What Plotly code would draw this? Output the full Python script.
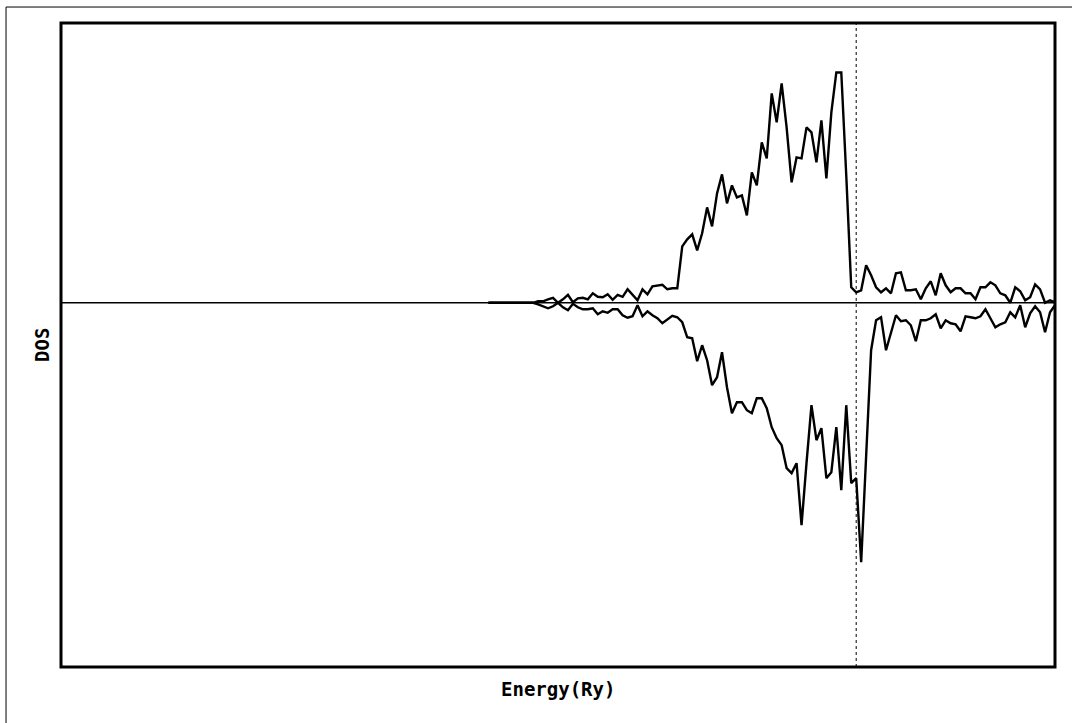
import numpy as np
import plotly.graph_objects as go

# Energy grid (Ry), Fermi level at 0
energy = np.round(np.arange(-0.74, 0.405, 0.01), 2)

# Majority-spin DOS (plotted upward)
dos_up = [
    0, 0, 0, 0, 0, 0, 0, 0, 0, 0,
    0.15, 0.15, 0.35, 0.5, 0.0, 0.35, 0.8, 0.05, 0.45, 0.5,
    0.35, 0.95, 0.6, 0.55, 0.85, 0.3, 0.8, 0.6, 1.35, 0.75,
    0.25, 1.35, 0.85, 1.65, 1.75, 1.8, 1.35, 1.45, 1.45, 5.65,
    6.35, 6.85, 5.25, 6.95, 9.55, 7.65, 10.95, 12.85, 9.95, 11.75,
    10.55, 10.75, 8.75, 13.05, 11.75, 16.05, 14.45, 20.95, 18.05, 21.95,
    17.55, 12.05, 14.55, 14.45, 17.55, 17.05, 14.05, 18.25, 12.45, 19.05,
    23.05, 23.05, 12.75, 1.55, 1.05, 1.25, 3.75, 2.75, 1.55, 1.05,
    1.45, 0.95, 2.95, 3.05, 1.25, 1.25, 1.35, 0.35, 1.45, 2.15,
    0.75, 2.95, 1.75, 1.05, 1.45, 1.45, 0.95, 0.95, 0.35, 1.55,
    1.55, 2.05, 1.75, 0.95, 0.75, 0.0, 1.55, 1.15, 0.25, 0.55,
    1.85, 1.35, 0.0, 0.25, 0.05,
]

# Minority-spin DOS (plotted downward)
dos_down = [
    0, 0, 0, 0, 0, 0, 0, 0, 0, 0,
    -0.15, -0.35, -0.55, -0.35, 0.0, -0.45, -0.75, -0.1, -0.45, -0.65,
    -0.65, -0.55, -1.15, -0.85, -1.0, -0.65, -0.65, -1.25, -1.5, -1.35,
    -0.25, -1.35, -0.85, -1.25, -1.55, -2.05, -1.65, -1.3, -1.45, -1.95,
    -3.45, -3.55, -5.85, -4.25, -5.75, -8.25, -7.45, -4.95, -8.45, -11.05,
    -9.95, -9.95, -10.75, -11.05, -9.55, -9.55, -10.55, -12.45, -13.55, -14.25,
    -16.55, -17.05, -16.05, -22.25, -16.05, -10.25, -13.75, -12.55, -17.55, -16.95,
    -12.45, -18.75, -10.25, -18.05, -17.55, -25.95, -15.35, -4.75, -1.75, -1.45,
    -4.75, -3.05, -1.25, -1.85, -1.75, -2.25, -3.85, -1.75, -1.75, -1.55,
    -1.15, -2.55, -1.75, -2.05, -2.15, -2.85, -1.35, -1.45, -1.55, -1.35,
    -0.65, -1.55, -2.45, -2.15, -1.95, -0.95, -1.45, -0.25, -2.45, -1.05,
    -0.35, -0.95, -2.95, -0.95, -0.25,
]

fermi_level = 0.0
x_range = [-1.6, 0.4]
y_range = [-36.45, 28.0]

fig = go.Figure()
for dos in (dos_up, dos_down):
    fig.add_trace(go.Scatter(
        x=energy, y=dos, mode="lines",
        line=dict(color="black", width=2.4),
        showlegend=False, hoverinfo="skip",
    ))

shapes = [
    # zero line
    dict(type="line", xref="paper", yref="y", x0=0, x1=1, y0=0, y1=0,
         line=dict(color="black", width=1.5), layer="below"),
    # Fermi level
    dict(type="line", xref="x", yref="paper", x0=fermi_level, x1=fermi_level,
         y0=0, y1=1, line=dict(color="black", width=1, dash="dot")),
    # plot frame
    dict(type="rect", xref="paper", yref="paper", x0=0, x1=1, y0=0, y1=1,
         line=dict(color="black", width=3)),
    # page border (left and top edges)
    dict(type="line", xref="paper", yref="paper", x0=-0.0553, x1=-0.0553,
         y0=-0.1, y1=1.0248, line=dict(color="black", width=1)),
    dict(type="line", xref="paper", yref="paper", x0=-0.0553, x1=1.03,
         y0=1.0248, y1=1.0248, line=dict(color="black", width=1)),
]

label_font = dict(family="DejaVu Sans Mono", size=19, color="black", weight="bold")
annotations = [
    dict(text="Energy(Ry)", xref="paper", yref="paper", x=0.5, y=0,
         xanchor="center", yanchor="middle", yshift=-22, showarrow=False,
         font=label_font),
    dict(text="DOS", xref="paper", yref="paper", x=0, y=0.5,
         xanchor="center", yanchor="middle", xshift=-19, yshift=0,
         textangle=-90, showarrow=False, font=label_font),
]

fig.update_layout(
    width=1072, height=723,
    margin=dict(l=61, r=17, t=23, b=56),
    paper_bgcolor="white", plot_bgcolor="white",
    xaxis=dict(range=x_range, showgrid=False, zeroline=False,
               showticklabels=False, ticks="", showline=False),
    yaxis=dict(range=y_range, showgrid=False, zeroline=False,
               showticklabels=False, ticks="", showline=False),
    shapes=shapes, annotations=annotations,
)

fig.write_html("out.html")
